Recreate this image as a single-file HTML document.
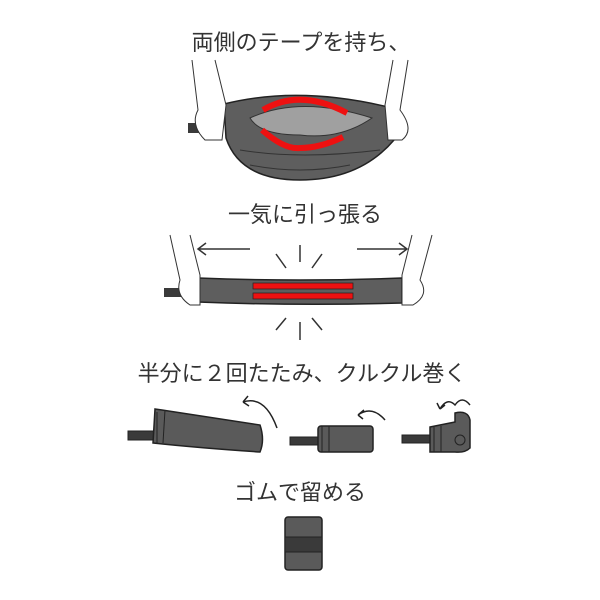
<!DOCTYPE html>
<html><head><meta charset="utf-8"><style>
body{margin:0;background:#fff;}
svg{display:block}
text{font-family:"Liberation Sans","Noto Sans CJK JP",sans-serif;fill:#333;}
</style></head><body>
<svg width="600" height="600" viewBox="0 0 600 600" xmlns="http://www.w3.org/2000/svg">
<text x="301" y="50" font-size="22" text-anchor="middle">両側のテープを持ち、</text>
<!-- bag -->
<path d="M224,104 Q300,85 392,108 L394,140 Q360,180 300,180 Q240,180 226,138 Z" fill="#5e5e5e" stroke="#222" stroke-width="1.5"/>
<path d="M250,118 Q300,95 372,118 Q340,140 300,135 Q260,135 250,118 Z" fill="#a0a0a0" stroke="#333"/>
<path d="M263,110 Q300,88 347,113" fill="none" stroke="#e11" stroke-width="6"/>
<path d="M262,130 Q285,150 300,148 Q320,148 343,137" fill="none" stroke="#e11" stroke-width="6"/>
<path d="M240,150 Q300,160 380,150 M250,165 Q300,175 350,165" stroke="#333" fill="none"/>
<rect x="188" y="123" width="35" height="10" fill="#3a3a3a"/>
<rect x="388" y="124" width="12" height="16" fill="#3a3a3a"/>
<!-- hands top -->
<path d="M192,60 L198,110 Q190,125 205,140 L222,140 L226,105 L215,60" fill="#fff" stroke="#333"/>
<path d="M408,60 L400,110 Q415,130 402,140 L388,140 L385,105 L393,60" fill="#fff" stroke="#333"/>
<text x="305" y="222" font-size="22" text-anchor="middle">一気に引っ張る</text>
<!-- arrows -->
<g stroke="#333" stroke-width="1.5" fill="none">
<path d="M198,249 L250,249 M206,243 L198,249 L206,255"/>
<path d="M357,249 L407,249 M399,243 L407,249 L399,255"/>
<path d="M300,245 L300,262 M276,254 L286,268 M322,254 L312,268"/>
<path d="M300,322 L300,340 M276,330 L286,318 M322,330 L312,318"/>
</g>
<!-- flat band -->
<path d="M198,278 Q300,282 402,278 L402,303 Q300,306 198,302 Z" fill="#5e5e5e" stroke="#222" stroke-width="1.5"/>
<rect x="253" y="283" width="100" height="6" fill="#e11" stroke="#222" stroke-width=".7"/>
<rect x="253" y="293" width="100" height="6" fill="#e11" stroke="#222" stroke-width=".7"/>
<rect x="164" y="288" width="35" height="9" fill="#3a3a3a"/>
<path d="M170,235 L180,280 Q175,295 190,305 L200,305 L200,275 L190,235" fill="#fff" stroke="#333"/>
<path d="M432,235 L420,280 Q430,295 413,305 L402,305 L402,275 L412,235" fill="#fff" stroke="#333"/>
<text x="302" y="381" font-size="22" text-anchor="middle">半分に２回たたみ、クルクル巻く</text>
<!-- fold 1 -->
<rect x="128" y="431" width="28" height="9" fill="#3a3a3a" stroke="#222"/>
<path d="M155,409 L162,410 Q215,418 260,425 Q265,440 260,452 Q200,448 153,443 Z" fill="#5a5a5a" stroke="#222" stroke-width="1.5"/>
<path d="M157,412 L157,443 M165,410 L163,443" stroke="#222"/>
<path d="M243,402 Q265,395 277,428 M243,402 L248,396 M243,402 L249,406" fill="none" stroke="#222" stroke-width="1.5"/>
<!-- fold 2 -->
<rect x="290" y="437" width="32" height="8" fill="#3a3a3a" stroke="#222"/>
<rect x="318" y="426" width="55" height="26" rx="3" fill="#5a5a5a" stroke="#222" stroke-width="1.5"/>
<path d="M322,426 L322,452 M329,426 L329,452" stroke="#222"/>
<path d="M358,415 Q372,405 385,420 M358,415 L364,410 M358,415 L363,419" fill="none" stroke="#222" stroke-width="1.5"/>
<!-- fold 3 -->
<rect x="402" y="435" width="30" height="8" fill="#3a3a3a" stroke="#222"/>
<path d="M430,427 L455,422 L455,413 Q468,410 470,420 L470,448 Q465,453 455,452 L430,452 Z" fill="#5a5a5a" stroke="#222" stroke-width="1.5"/>
<path d="M434,427 L434,452 M441,426 L441,452" stroke="#222"/>
<circle cx="460" cy="440" r="5" fill="none" stroke="#222"/>
<path d="M440,409 Q447,397 455,405 Q462,395 470,405 M440,409 L437,403 M440,409 L445,405" fill="none" stroke="#222" stroke-width="1.5"/>
<text x="300" y="500" font-size="22" text-anchor="middle">ゴムで留める</text>
<rect x="285" y="517" width="37" height="53" rx="3" fill="#5a5a5a" stroke="#222" stroke-width="1.5"/>
<rect x="285" y="537" width="37" height="15" fill="#3a3a3a" stroke="#222"/>
</svg>
</body></html>
